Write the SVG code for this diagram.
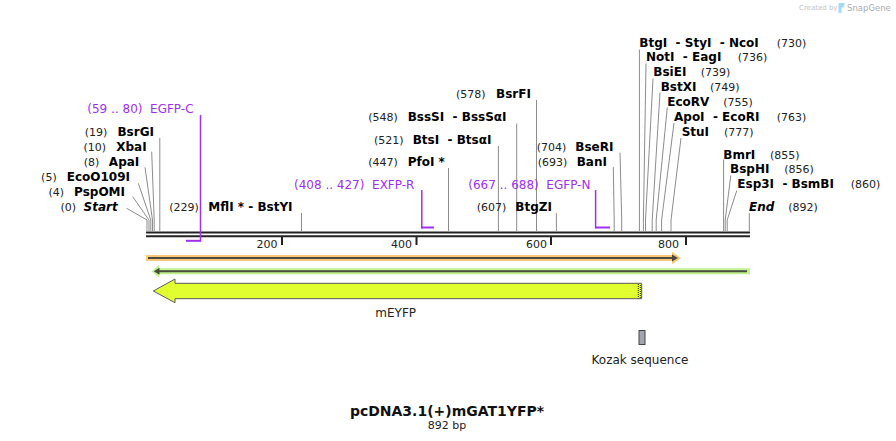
<svg xmlns="http://www.w3.org/2000/svg" width="896" height="441" viewBox="0 0 896 441" xml:space="preserve">
<style>
text { font-family: "DejaVu Sans", Verdana, sans-serif; white-space: pre; }
.nm { font-size: 12px; font-weight: bold; fill: #000; }
.it { font-style: italic; }
.nu { font-size: 11px; fill: #222; }
.pr { font-size: 12px; fill: #a030f0; }
.ld { stroke: #8c8c8c; stroke-width: 1; fill: none; }
.pl { stroke: #a030f0; fill: none; }
.bb { stroke: #222; stroke-width: 2; }
.tk { fill: #222; }
.tl { font-size: 11px; fill: #222; text-anchor: end; }
.e { text-anchor: end; }
.ft { font-size: 12px; fill: #222; }
</style>
<rect width="896" height="441" fill="#fff"/>

<!-- SnapGene credit -->
<g id="credit">
  <text x="799" y="10" style="font-size:7px;fill:#c4c4c4">Created by</text>
  <path d="M838.5,3 h6.5 l-1.5,4.5 h-2 v5.5 h-3 z" fill="#a6d8f7"/>
  <text x="847" y="11" style="font-size:8.5px;fill:#ababab">SnapGene</text>
</g>

<!-- backbone -->
<g id="backbone">
  <line class="bb" x1="146" y1="232.5" x2="750" y2="232.5"/>
  <line class="bb" x1="146" y1="236.3" x2="750" y2="236.3"/>
  <rect class="tk" x="281" y="237" width="2" height="8"/>
  <rect class="tk" x="415.5" y="237" width="2" height="8"/>
  <rect class="tk" x="550" y="237" width="2" height="8"/>
  <rect class="tk" x="685" y="237" width="2" height="8"/>
  <text class="tl" x="277.5" y="248">200</text>
  <text class="tl" x="412" y="248">400</text>
  <text class="tl" x="547" y="248">600</text>
  <text class="tl" x="679" y="248">800</text>
</g>

<!-- connectors -->
<g id="connectors">
  <polyline class="ld" points="126.7,208.3 147,220 147,231"/>
  <polyline class="ld" points="132.7,196.7 149,220 149,231"/>
  <polyline class="ld" points="138.3,183.3 150.8,220 150.8,231"/>
  <polyline class="ld" points="145,167.3 152.5,220 152.5,231"/>
  <polyline class="ld" points="151.7,151.7 154.2,220 154.2,231"/>
  <polyline class="ld" points="159.8,138 159.8,231"/>
  <polyline class="ld" points="301.5,213 301.5,231"/>
  <polyline class="ld" points="448.5,168 448.5,231"/>
  <polyline class="ld" points="498.4,146 498.4,231"/>
  <polyline class="ld" points="516.7,123.5 516.7,231"/>
  <polyline class="ld" points="536.5,100 536.5,231"/>
  <polyline class="ld" points="556.4,213 556.4,231"/>
  <polyline class="ld" points="613.3,167 614.2,220 614.2,231"/>
  <polyline class="ld" points="620,152.7 621.7,220 621.7,231"/>
  <polyline class="ld" points="639.4,49.5 639.4,231"/>
  <polyline class="ld" points="646,63.5 643.4,220 643.4,231"/>
  <polyline class="ld" points="653,78.5 645.5,220 645.5,231"/>
  <polyline class="ld" points="660,92.5 652.2,220 652.2,231"/>
  <polyline class="ld" points="667.3,107.5 656.2,220 656.2,231"/>
  <polyline class="ld" points="674,123 661.6,220 661.6,231"/>
  <polyline class="ld" points="681,138 671,220 671,231"/>
  <polyline class="ld" points="723.6,159.5 723.6,231"/>
  <polyline class="ld" points="730.8,175.5 725.2,220 725.2,231"/>
  <polyline class="ld" points="736.8,190.5 727.2,220 727.2,231"/>
  <polyline class="ld" points="749.3,213 749.3,231"/>
</g>

<!-- restriction sites: left column -->
<g id="site-start"><text class="nu e" x="76" y="211">(0)</text><text class="nm it e" x="117.7" y="211">Start</text></g>
<g id="site-PspOMI"><text class="nu e" x="64" y="196">(4)</text><text class="nm e" x="125" y="196">PspOMI</text></g>
<g id="site-EcoO109I"><text class="nu e" x="56.7" y="181.4">(5)</text><text class="nm e" x="130" y="181.4">EcoO109I</text></g>
<g id="site-ApaI"><text class="nu e" x="99.3" y="166">(8)</text><text class="nm e" x="139.3" y="166">ApaI</text></g>
<g id="site-XbaI"><text class="nu e" x="106" y="151">(10)</text><text class="nm e" x="146.7" y="151">XbaI</text></g>
<g id="site-BsrGI"><text class="nu e" x="107.3" y="136.4">(19)</text><text class="nm e" x="154" y="136.4">BsrGI</text></g>

<!-- middle sites -->
<g id="site-MflI"><text class="nu" x="169.3" y="211">(229)</text><text class="nm" x="208.3" y="211">MflI * - BstYI</text></g>
<g id="site-PfoI"><text class="nu" x="368.3" y="166">(447)</text><text class="nm" x="407.7" y="166">PfoI *</text></g>
<g id="site-BtsI"><text class="nu" x="374" y="144">(521)</text><text class="nm" x="412.7" y="144">BtsI  - BtsαI</text></g>
<g id="site-BssSI"><text class="nu" x="368.3" y="121">(548)</text><text class="nm" x="407.7" y="121">BssSI  - BssSαI</text></g>
<g id="site-BsrFI"><text class="nu" x="456" y="98.4">(578)</text><text class="nm" x="496" y="98.4">BsrFI</text></g>
<g id="site-BtgZI"><text class="nu" x="476.7" y="211">(607)</text><text class="nm" x="515.3" y="211">BtgZI</text></g>
<g id="site-BseRI"><text class="nu" x="536.7" y="151">(704)</text><text class="nm" x="575.3" y="151">BseRI</text></g>
<g id="site-BanI"><text class="nu" x="537.7" y="166">(693)</text><text class="nm" x="576.7" y="166">BanI</text></g>

<!-- right column -->
<g id="site-BtgI"><text class="nm" x="639.3" y="46.7">BtgI  - StyI  - NcoI</text><text class="nu" x="776.7" y="46.7">(730)</text></g>
<g id="site-NotI"><text class="nm" x="646" y="61">NotI  - EagI</text><text class="nu" x="737.7" y="61">(736)</text></g>
<g id="site-BsiEI"><text class="nm" x="653.3" y="76">BsiEI</text><text class="nu" x="700.7" y="76">(739)</text></g>
<g id="site-BstXI"><text class="nm" x="660.7" y="91">BstXI</text><text class="nu" x="710" y="91">(749)</text></g>
<g id="site-EcoRV"><text class="nm" x="667.3" y="106">EcoRV</text><text class="nu" x="723.3" y="106">(755)</text></g>
<g id="site-ApoI"><text class="nm" x="674" y="121">ApoI  - EcoRI</text><text class="nu" x="776.7" y="121">(763)</text></g>
<g id="site-StuI"><text class="nm" x="681.7" y="136">StuI</text><text class="nu" x="724" y="136">(777)</text></g>
<g id="site-BmrI"><text class="nm" x="723.3" y="158.7">BmrI</text><text class="nu" x="770" y="158.7">(855)</text></g>
<g id="site-BspHI"><text class="nm" x="730" y="172.7">BspHI</text><text class="nu" x="784.3" y="172.7">(856)</text></g>
<g id="site-Esp3I"><text class="nm" x="737.3" y="187.7">Esp3I  - BsmBI</text><text class="nu" x="850.7" y="187.7">(860)</text></g>
<g id="site-end"><text class="nm it" x="749" y="211">End</text><text class="nu" x="788.3" y="211">(892)</text></g>

<!-- primers -->
<g id="primer-EGFP-C">
  <line class="pl" stroke-width="1.5" x1="200.5" y1="115" x2="200.5" y2="241.5"/>
  <line class="pl" stroke-width="2" x1="186" y1="240.8" x2="201" y2="240.8"/>
  <text class="pr" x="87.3" y="113.4">(59 .. 80)  EGFP-C</text>
</g>
<g id="primer-EXFP-R">
  <line class="pl" stroke-width="1.5" x1="421.8" y1="190" x2="421.8" y2="228.5"/>
  <line class="pl" stroke-width="2" x1="421" y1="227.5" x2="434" y2="227.5"/>
  <text class="pr" x="294" y="188.7">(408 .. 427)  EXFP-R</text>
</g>
<g id="primer-EGFP-N">
  <line class="pl" stroke-width="1.5" x1="595.6" y1="190" x2="595.6" y2="228.5"/>
  <line class="pl" stroke-width="2" x1="595" y1="227.5" x2="610" y2="227.5"/>
  <text class="pr" x="468.3" y="188.7">(667 .. 688)  EGFP-N</text>
</g>

<!-- ORFs -->
<g id="orf-forward">
  <line x1="146" y1="258" x2="673" y2="258" stroke="#fcc878" stroke-width="6"/>
  <polygon points="672,251.7 681,258 672,264.3" fill="#fcc878"/>
  <line x1="148" y1="258" x2="673" y2="258" stroke="#4a4a40" stroke-width="2"/>
  <polygon points="672,254.5 678,258 672,261.5" fill="#4a4a40"/>
</g>
<g id="orf-reverse">
  <line x1="157" y1="271.3" x2="750" y2="271.3" stroke="#c0f38e" stroke-width="6"/>
  <polygon points="159,265 151.5,271.3 159,277.6" fill="#c0f38e"/>
  <line x1="157" y1="271.3" x2="747" y2="271.3" stroke="#4a4a40" stroke-width="2"/>
  <polygon points="159.5,267.8 153.8,271.3 159.5,274.8" fill="#4a4a40"/>
</g>

<!-- mEYFP feature -->
<g id="feature-mEYFP">
  <polygon points="641.7,283.3 175,283.3 175,279 153.3,291 175,302.7 175,298.7 641.7,298.7" fill="#e1ff30" stroke="#5a5a5a" stroke-width="1"/>
  <line x1="638.3" y1="284" x2="638.3" y2="298.5" stroke="#222" stroke-width="1" stroke-dasharray="1 1"/>
  <line x1="640.3" y1="285" x2="640.3" y2="298.5" stroke="#222" stroke-width="1" stroke-dasharray="1 1"/>
  <text class="ft" x="395.7" y="317" text-anchor="middle">mEYFP</text>
</g>

<!-- Kozak -->
<g id="feature-kozak">
  <rect x="639" y="330.5" width="6" height="14" fill="#a3a6ae" stroke="#444" stroke-width="1"/>
  <text class="ft" x="640" y="363.5" text-anchor="middle">Kozak sequence</text>
</g>

<!-- title -->
<g id="title">
  <text x="447" y="416" text-anchor="middle" style="font-size:14px;font-weight:bold;fill:#111">pcDNA3.1(+)mGAT1YFP*</text>
  <text x="447" y="429" text-anchor="middle" style="font-size:11px;fill:#222">892 bp</text>
</g>
</svg>
